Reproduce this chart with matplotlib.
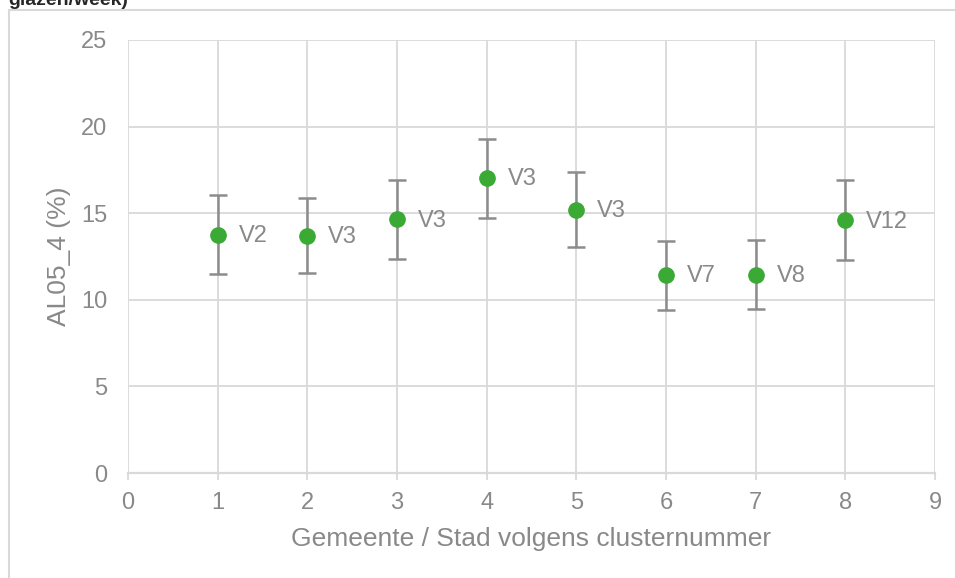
import matplotlib
matplotlib.use("Agg")
import matplotlib.pyplot as plt
from matplotlib.patches import Rectangle

plt.rcParams['font.family'] = ['Liberation Sans', 'DejaVu Sans']

clusters = [1, 2, 3, 4, 5, 6, 7, 8]
values = [13.75, 13.7, 14.65, 17.05, 15.18, 11.45, 11.45, 14.6]
upper = [16.05, 15.86, 16.9, 19.28, 17.38, 13.41, 13.45, 16.9]
lower = [11.47, 11.53, 12.34, 14.72, 13.05, 9.43, 9.45, 12.3]
labels = ["V2", "V3", "V3", "V3", "V3", "V7", "V8", "V12"]

xticks = list(range(0, 10))
yticks = [0, 5, 10, 15, 20, 25]

txt = "#898989"
grid = "#d9d9d9"
green = "#3aaa35"
errc = "#8c8c8c"

fig = plt.figure(figsize=(9.55, 5.78), dpi=100)
W, H = 955, 578
ax = fig.add_axes([128 / W, (H - 473) / H, (935 - 128) / W, (473 - 40) / H])

yerr = [[v - l for v, l in zip(values, lower)], [u - v for u, v in zip(upper, values)]]
ax.errorbar(clusters, values, yerr=yerr, fmt='none', ecolor=errc, elinewidth=1.8,
            capsize=6.5, capthick=1.8, zorder=3)
ax.plot(clusters, values, 'o', color=green, markersize=11, zorder=4, clip_on=False)

for x, y, lab in zip(clusters, values, labels):
    ax.annotate(lab, (x, y), xytext=(15, -1), textcoords='offset points',
                ha='left', va='center', fontsize=17, color=txt)

ax.set_xlim(0, 9)
ax.set_ylim(0, 25)
ax.set_xticks(xticks)
ax.set_yticks(yticks)
ax.grid(True, color=grid, linewidth=1.3)
ax.set_axisbelow(True)
for s in ['top', 'right', 'left']:
    ax.spines[s].set_visible(False)
ax.spines['bottom'].set_color(grid)
ax.spines['bottom'].set_linewidth(1.6)
ax.tick_params(axis='x', colors=grid, labelcolor=txt, length=5, width=1.3,
               labelsize=17, pad=9)
ax.tick_params(axis='y', length=0, labelcolor=txt, labelsize=17, pad=15)
ax.set_xlabel("Gemeente / Stad volgens clusternummer", fontsize=19, color=txt, labelpad=9)
ax.set_ylabel("AL05_4 (%)", fontsize=19, color=txt, labelpad=7)

# outer chart frame
fig.patches.append(Rectangle((8.5 / W, -0.1), 1.2, 1 - 10.5 / H + 0.1, transform=fig.transFigure,
                             fill=False, edgecolor="#d9d9d9", linewidth=1.5))
fig.text(8 / W, 1 - 5 / H, "glazen/week)", fontsize=14, fontweight='bold', color="#262626",
         ha='left', va='baseline')

fig.savefig("out.png", dpi=100)
